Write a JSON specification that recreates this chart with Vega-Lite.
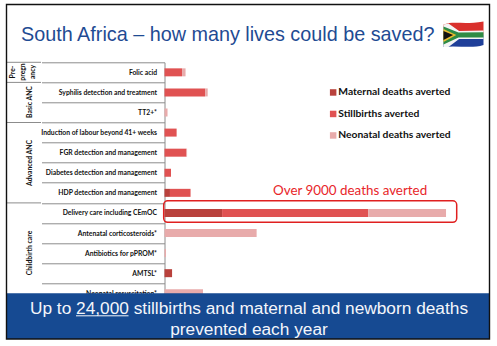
{"$schema":"https://vega.github.io/schema/vega-lite/v6.json","autosize":"none","width":332.5,"height":241,"padding":{"left":164.5,"top":62.3,"right":0,"bottom":42.7},"background":"white","title":{"text":"South Africa – how many lives could be saved?","anchor":"start","frame":"group","dx":-143.5,"offset":-41,"font":"Liberation Sans","fontSize":19.8,"fontWeight":"normal","color":"#1f4b93"},"config":{"view":{"stroke":null},"text":{"font":"Lato"}},"resolve":{"scale":{"x":"independent","y":"independent","color":"independent"}},"layer":[{"data":{"values":[{"intervention":"Folic acid","type":"Stillbirths averted","deaths":580,"seq":2},{"intervention":"Folic acid","type":"Neonatal deaths averted","deaths":115,"seq":3},{"intervention":"Syphilis detection and treatment","type":"Stillbirths averted","deaths":1340,"seq":2},{"intervention":"Syphilis detection and treatment","type":"Neonatal deaths averted","deaths":85,"seq":3},{"intervention":"TT2+*","type":"Neonatal deaths averted","deaths":100,"seq":3},{"intervention":"Induction of labour beyond 41+ weeks","type":"Stillbirths averted","deaths":400,"seq":2},{"intervention":"FGR detection and management","type":"Stillbirths averted","deaths":725,"seq":2},{"intervention":"FGR detection and management","type":"Neonatal deaths averted","deaths":20,"seq":3},{"intervention":"Diabetes detection and management","type":"Stillbirths averted","deaths":215,"seq":2},{"intervention":"HDP detection and management","type":"Maternal deaths averted","deaths":180,"seq":1},{"intervention":"HDP detection and management","type":"Stillbirths averted","deaths":680,"seq":2},{"intervention":"Delivery care including CEmOC","type":"Maternal deaths averted","deaths":1900,"seq":1},{"intervention":"Delivery care including CEmOC","type":"Stillbirths averted","deaths":4820,"seq":2},{"intervention":"Delivery care including CEmOC","type":"Neonatal deaths averted","deaths":2570,"seq":3},{"intervention":"Antenatal corticosteroids*","type":"Neonatal deaths averted","deaths":3040,"seq":3},{"intervention":"Antibiotics for pPROM*","type":"Neonatal deaths averted","deaths":50,"seq":3},{"intervention":"AMTSL*","type":"Maternal deaths averted","deaths":250,"seq":1},{"intervention":"Neonatal resuscitation*","type":"Neonatal deaths averted","deaths":1270,"seq":3}]},"mark":{"type":"bar","size":8},"encoding":{"y":{"field":"intervention","type":"nominal","title":null,"sort":null,"scale":{"domain":["Folic acid","Syphilis detection and treatment","TT2+*","Induction of labour beyond 41+ weeks","FGR detection and management","Diabetes detection and management","HDP detection and management","Delivery care including CEmOC","Antenatal corticosteroids*","Antibiotics for pPROM*","AMTSL*","Neonatal resuscitation*"],"paddingInner":0,"paddingOuter":0},"axis":{"tickBand":"extent","tickSize":123,"tickColor":"#8c8c8c","domainColor":"#8c8c8c","tickWidth":1,"domainWidth":1,"labelPadding":-115,"labelFont":"Lato","labelFontSize":6.8,"labelFontWeight":"bold","labelColor":"#111111","labelLimit":200,"grid":false}},"x":{"field":"deaths","type":"quantitative","stack":"zero","axis":null,"scale":{"domain":[0,10972],"nice":false}},"order":{"field":"seq"},"color":{"field":"type","type":"nominal","scale":{"domain":["Maternal deaths averted","Stillbirths averted","Neonatal deaths averted"],"range":["#b9413c","#e05252","#e8abab"]},"legend":{"orient":"none","legendX":163.5,"legendY":25,"title":null,"symbolType":"square","symbolSize":42,"symbolStrokeWidth":0,"labelFont":"Lato","labelFontSize":10.3,"labelFontWeight":"bold","labelColor":"#111111","rowPadding":10.5,"labelOffset":0,"labelLimit":200}}}},{"layer":[{"data":{"values":[{"boundary":"pre-pregnancy top"}]},"mark":{"type":"rule","color":"#8c8c8c"},"encoding":{"x":{"datum":7,"scale":{"domain":[164.5,497],"nice":false,"zero":false},"axis":null},"x2":{"datum":41},"y":{"datum":62.3,"scale":{"domain":[303.3,62.3],"nice":false,"zero":false},"axis":null}}},{"data":{"values":[{"boundary":"pre-pregnancy bottom"}]},"mark":{"type":"rule","color":"#8c8c8c"},"encoding":{"x":{"datum":7,"axis":null},"x2":{"datum":41},"y":{"datum":82.4,"axis":null}}},{"data":{"values":[{"boundary":"basic ANC bottom"}]},"mark":{"type":"rule","color":"#8c8c8c"},"encoding":{"x":{"datum":7,"axis":null},"x2":{"datum":41},"y":{"datum":122.5,"axis":null}}},{"data":{"values":[{"boundary":"advanced ANC bottom"}]},"mark":{"type":"rule","color":"#8c8c8c"},"encoding":{"x":{"datum":7,"axis":null},"x2":{"datum":41},"y":{"datum":202.9,"axis":null}}},{"data":{"values":[{"label":"Pre-"}]},"mark":{"type":"text","angle":270,"fontSize":6.8,"fontWeight":"bold","color":"#111111","align":"center","baseline":"middle"},"encoding":{"x":{"datum":12.5,"axis":null},"y":{"datum":72,"axis":null},"text":{"field":"label"}}},{"data":{"values":[{"label":"pregn"}]},"mark":{"type":"text","angle":270,"fontSize":6.8,"fontWeight":"bold","color":"#111111","align":"center","baseline":"middle"},"encoding":{"x":{"datum":22.5,"axis":null},"y":{"datum":72,"axis":null},"text":{"field":"label"}}},{"data":{"values":[{"label":"ancy"}]},"mark":{"type":"text","angle":270,"fontSize":6.8,"fontWeight":"bold","color":"#111111","align":"center","baseline":"middle"},"encoding":{"x":{"datum":32.5,"axis":null},"y":{"datum":72,"axis":null},"text":{"field":"label"}}},{"data":{"values":[{"label":"Basic ANC"}]},"mark":{"type":"text","angle":270,"fontSize":6.8,"fontWeight":"bold","color":"#111111","align":"center","baseline":"middle"},"encoding":{"x":{"datum":30,"axis":null},"y":{"datum":102,"axis":null},"text":{"field":"label"}}},{"data":{"values":[{"label":"Advanced ANC"}]},"mark":{"type":"text","angle":270,"fontSize":6.8,"fontWeight":"bold","color":"#111111","align":"center","baseline":"middle"},"encoding":{"x":{"datum":30,"axis":null},"y":{"datum":163,"axis":null},"text":{"field":"label"}}},{"data":{"values":[{"label":"Childbirth care"}]},"mark":{"type":"text","angle":270,"fontSize":6.8,"fontWeight":"bold","color":"#111111","align":"center","baseline":"middle"},"encoding":{"x":{"datum":30,"axis":null},"y":{"datum":253,"axis":null},"text":{"field":"label"}}},{"data":{"values":[{"label":"Over 9000 deaths averted"}]},"mark":{"type":"text","fontSize":13.4,"color":"#e8262a","align":"left","baseline":"alphabetic","font":"Lato"},"encoding":{"x":{"datum":273,"axis":null},"y":{"datum":195,"axis":null},"text":{"field":"label"}}},{"data":{"values":[{"annotation":"highlight box"}]},"mark":{"type":"rect","fill":null,"stroke":"#e02020","strokeWidth":1.5,"cornerRadius":4},"encoding":{"x":{"datum":163.7,"axis":null},"x2":{"datum":456.7},"y":{"datum":200.8,"axis":null},"y2":{"datum":222.3}}},{"data":{"values":[{"part":"red"},{"part":"blue"},{"part":"white"},{"part":"green"},{"part":"gold"},{"part":"black"}]},"mark":{"type":"point","filled":true,"size":1600,"opacity":1,"strokeWidth":0},"encoding":{"x":{"datum":463.5,"axis":null},"y":{"datum":35,"axis":null},"shape":{"field":"part","type":"nominal","legend":null,"scale":{"domain":["red","blue","white","green","gold","black"],"range":["M-1 -0.52 C-0.5 -0.72 0 -0.5 1 -0.68 L1 0 L-1 0Z","M-1 0 L1 0 L1 0.5 C0.4 0.7 -0.3 0.5 -1 0.6Z","M-1 -0.52 L-0.75 -0.58 L-0.22 -0.2 L1 -0.22 L1 0.2 L-0.22 0.2 L-0.75 0.6 L-1 0.6Z","M-1 -0.42 L-0.25 -0.13 L1 -0.14 L1 0.13 L-0.25 0.13 L-1 0.48Z","M-1 -0.3 L-0.36 0 L-1 0.35Z","M-1 -0.2 L-0.52 0 L-1 0.25Z"]}},"color":{"field":"part","type":"nominal","legend":null,"scale":{"domain":["red","blue","white","green","gold","black"],"range":["#d9302c","#1f3f99","#f4f4f4","#2e8b45","#e9bb2f","#111111"]}}}},{"data":{"values":[{"annotation":"banner"}]},"mark":{"type":"rect","fill":"#164a92"},"encoding":{"x":{"datum":6.5,"axis":null},"x2":{"datum":489.5},"y":{"datum":293.3,"axis":null},"y2":{"datum":339}}},{"data":{"values":[{"label":"Up to 24,000 stillbirths and maternal and newborn deaths"}]},"mark":{"type":"text","font":"Liberation Sans","fontSize":17.3,"color":"#f4f6fb","align":"center","baseline":"alphabetic"},"encoding":{"x":{"datum":249,"axis":null},"y":{"datum":314,"axis":null},"text":{"field":"label"}}},{"data":{"values":[{"label":"prevented each year"}]},"mark":{"type":"text","font":"Liberation Sans","fontSize":17.3,"color":"#f4f6fb","align":"center","baseline":"alphabetic"},"encoding":{"x":{"datum":249,"axis":null},"y":{"datum":335,"axis":null},"text":{"field":"label"}}},{"data":{"values":[{"annotation":"underline"}]},"mark":{"type":"rule","color":"#f4f6fb","strokeWidth":1},"encoding":{"x":{"datum":76,"axis":null},"x2":{"datum":128.5},"y":{"datum":315.8,"axis":null}}},{"data":{"values":[{"annotation":"frame"}]},"mark":{"type":"rect","fill":null,"stroke":"#111111","strokeWidth":1.4},"encoding":{"x":{"datum":6.5,"axis":null},"x2":{"datum":489.5},"y":{"datum":4.5,"axis":null},"y2":{"datum":339}}}]}]}
